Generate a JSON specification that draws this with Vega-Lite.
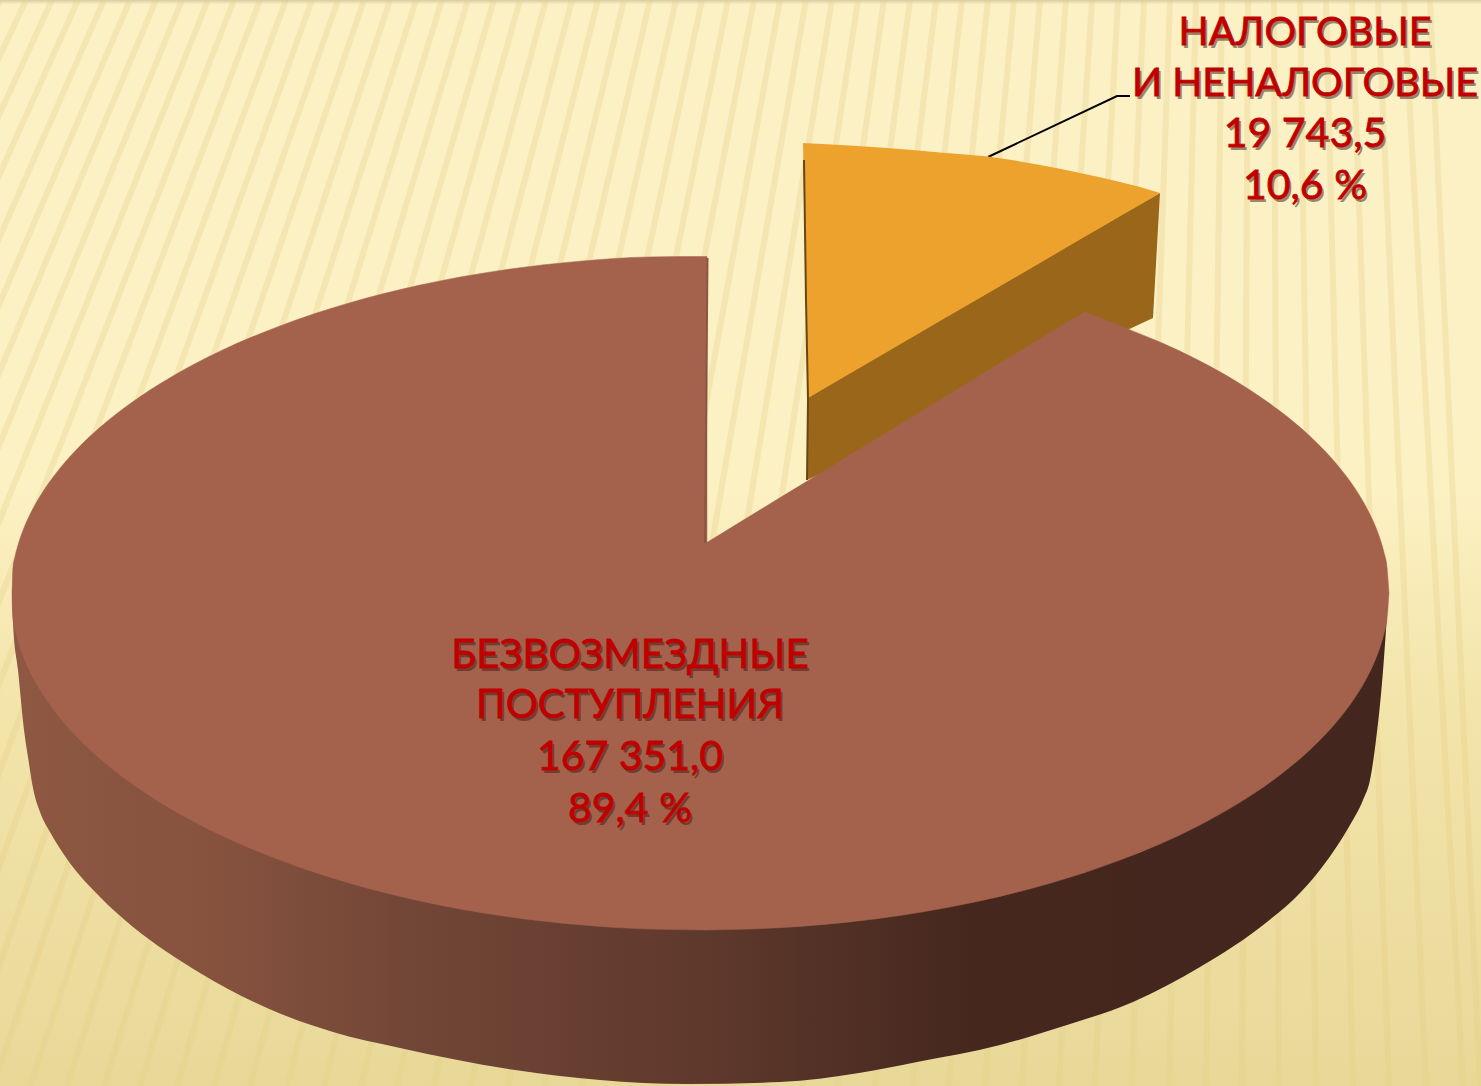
{"$schema":"https://vega.github.io/schema/vega-lite/v6.json","width":1481,"height":1086,"padding":0,"autosize":{"type":"fit","contains":"padding"},"background":"#FCF1C5","view":{"stroke":null,"fill":{"gradient":"linear","x1":0,"y1":0,"x2":0,"y2":1,"stops":[{"offset":0,"color":"#D9CCA3"},{"offset":0.004,"color":"#FCF1C5"},{"offset":0.45,"color":"#FCF1C3"},{"offset":0.65,"color":"#F3E4AA"},{"offset":1,"color":"#E8D898"}]}},"datasets":{"stripes":[{"a":0,"b":-521},{"a":26,"b":-484},{"a":52,"b":-448},{"a":78,"b":-411},{"a":104,"b":-374},{"a":130,"b":-337},{"a":156,"b":-301},{"a":182,"b":-264},{"a":208,"b":-227},{"a":234,"b":-190},{"a":260,"b":-154},{"a":286,"b":-117},{"a":312,"b":-80},{"a":338,"b":-43},{"a":364,"b":-7},{"a":390,"b":30},{"a":416,"b":67},{"a":442,"b":104},{"a":468,"b":140},{"a":494,"b":177},{"a":520,"b":214},{"a":546,"b":250},{"a":572,"b":287},{"a":598,"b":324},{"a":624,"b":361},{"a":650,"b":397},{"a":676,"b":434},{"a":702,"b":471},{"a":728,"b":508},{"a":754,"b":544},{"a":780,"b":581},{"a":806,"b":618},{"a":832,"b":655},{"a":858,"b":691},{"a":884,"b":728},{"a":910,"b":765},{"a":936,"b":802},{"a":962,"b":838},{"a":988,"b":875},{"a":1014,"b":912},{"a":1040,"b":949},{"a":1066,"b":985},{"a":1092,"b":1022},{"a":1118,"b":1059},{"a":1144,"b":1095},{"a":1170,"b":1132},{"a":1196,"b":1169},{"a":1222,"b":1206},{"a":1248,"b":1242},{"a":1274,"b":1279},{"a":1300,"b":1316},{"a":1326,"b":1353},{"a":1352,"b":1389},{"a":1378,"b":1426},{"a":1404,"b":1463},{"a":1430,"b":1480}],"side":[{"x":12,"t":593,"b":600},{"x":13,"t":593,"b":623},{"x":18,"t":593,"b":670},{"x":24,"t":593,"b":730},{"x":28,"t":593,"b":757},{"x":33,"t":593,"b":788},{"x":40,"t":593,"b":812},{"x":50,"t":593,"b":832},{"x":67,"t":593,"b":859},{"x":100,"t":593,"b":897},{"x":133,"t":593,"b":927},{"x":167,"t":593,"b":952},{"x":200,"t":593,"b":973},{"x":267,"t":593,"b":1008},{"x":333,"t":593,"b":1032},{"x":400,"t":593,"b":1048},{"x":515,"t":593,"b":1070},{"x":600,"t":593,"b":1080},{"x":687,"t":593,"b":1084},{"x":780,"t":593,"b":1082},{"x":859,"t":593,"b":1073},{"x":917,"t":593,"b":1062},{"x":1000,"t":593,"b":1045},{"x":1067,"t":593,"b":1025},{"x":1133,"t":593,"b":1002},{"x":1200,"t":593,"b":967},{"x":1267,"t":593,"b":922},{"x":1300,"t":593,"b":893},{"x":1333,"t":593,"b":852},{"x":1350,"t":593,"b":825},{"x":1363,"t":593,"b":800},{"x":1370,"t":593,"b":780},{"x":1376,"t":593,"b":740},{"x":1382,"t":593,"b":683},{"x":1388,"t":593,"b":600}],"top":[{"seg":"a","x":12,"t":593,"b":593},{"seg":"a","x":13,"t":567.3,"b":618.7},{"seg":"a","x":15,"t":556.7,"b":629.3},{"seg":"a","x":18,"t":545.1,"b":640.9},{"seg":"a","x":22,"t":533,"b":653},{"seg":"a","x":28,"t":518.6,"b":667.4},{"seg":"a","x":36,"t":503.1,"b":682.9},{"seg":"a","x":46,"t":487,"b":699},{"seg":"a","x":60,"t":468.2,"b":717.8},{"seg":"a","x":80,"t":446,"b":740},{"seg":"a","x":100,"t":427.3,"b":758.7},{"seg":"a","x":130,"t":403.7,"b":782.3},{"seg":"a","x":170,"t":377.7,"b":808.3},{"seg":"a","x":220,"t":351.2,"b":834.8},{"seg":"a","x":280,"t":325.9,"b":860.1},{"seg":"a","x":350,"t":302.7,"b":883.3},{"seg":"a","x":420,"t":285.1,"b":900.9},{"seg":"a","x":500,"t":270.5,"b":915.5},{"seg":"a","x":580,"t":261.2,"b":924.8},{"seg":"a","x":650,"t":256.9,"b":929.1},{"seg":"a","x":707,"t":256.5,"b":930},{"seg":"b","x":706,"t":543,"b":930},{"seg":"b","x":750,"t":516,"b":929.1},{"seg":"b","x":800,"t":485.6,"b":926.4},{"seg":"b","x":850,"t":455,"b":921.9},{"seg":"b","x":900,"t":424.4,"b":915.5},{"seg":"b","x":950,"t":394,"b":907},{"seg":"b","x":1000,"t":363.3,"b":896.4},{"seg":"b","x":1050,"t":332.8,"b":883.3},{"seg":"b","x":1085,"t":312,"b":872.5},{"seg":"c","x":1085,"t":312,"b":872.5},{"seg":"c","x":1120,"t":325.9,"b":860.1},{"seg":"c","x":1160,"t":342.1,"b":843.9},{"seg":"c","x":1200,"t":361.1,"b":824.9},{"seg":"c","x":1240,"t":383.7,"b":802.3},{"seg":"c","x":1280,"t":411.1,"b":774.9},{"seg":"c","x":1310,"t":436.3,"b":749.7},{"seg":"c","x":1340,"t":468.2,"b":717.8},{"seg":"c","x":1355,"t":488.4,"b":697.6},{"seg":"c","x":1366,"t":506.7,"b":679.3},{"seg":"c","x":1374,"t":523.1,"b":662.9},{"seg":"c","x":1380,"t":538.7,"b":647.3},{"seg":"c","x":1384,"t":552.5,"b":633.5},{"seg":"c","x":1387,"t":567.3,"b":618.7},{"seg":"c","x":1389,"t":593,"b":593}],"smallSide":[{"x":807,"t":398,"b":480},{"x":900,"t":343.7,"b":436.5},{"x":1000,"t":285.4,"b":389.7},{"x":1100,"t":227,"b":342.8},{"x":1153,"t":197,"b":318},{"x":1160,"t":193,"b":193}],"smallTop":[{"x":803,"t":143,"b":143},{"x":808,"t":143.2,"b":398},{"x":850,"t":145.5,"b":373.5},{"x":880,"t":147.5,"b":356},{"x":910,"t":149.7,"b":338.6},{"x":940,"t":152.5,"b":321.1},{"x":965,"t":154.5,"b":306.6},{"x":988,"t":156.5,"b":293.2},{"x":1015,"t":160.5,"b":277.5},{"x":1040,"t":165,"b":262.9},{"x":1060,"t":168.8,"b":251.3},{"x":1080,"t":173,"b":239.6},{"x":1100,"t":177.3,"b":228},{"x":1120,"t":182,"b":216.3},{"x":1140,"t":187,"b":204.7},{"x":1160,"t":193,"b":193}],"smallEdge":[{"x":804,"y":160},{"x":806,"y":300},{"x":808,"y":400},{"x":807,"y":480}],"notchEdge":[{"x":707.5,"y":258},{"x":705,"y":543}],"leader":[{"x":988,"y":157},{"x":1117,"y":96},{"x":1130,"y":96}],"labels":[{"text":"НАЛОГОВЫЕ","x":1305,"y":45,"kind":"caption top"},{"text":"И НЕНАЛОГОВЫЕ","x":1305,"y":96,"kind":"caption top"},{"text":"19 743,5","x":1305,"y":147,"kind":"figure"},{"text":"10,6 %","x":1305,"y":199,"kind":"figure"},{"text":"БЕЗВОЗМЕЗДНЫЕ","x":630,"y":668,"kind":"caption"},{"text":"ПОСТУПЛЕНИЯ","x":630,"y":718,"kind":"caption"},{"text":"167 351,0","x":630,"y":770,"kind":"figure"},{"text":"89,4 %","x":630,"y":822,"kind":"figure"}]},"layer":[{"data":{"name":"stripes"},"mark":{"type":"rule","stroke":"#E3CE85","strokeWidth":6,"opacity":0.3,"clip":true},"encoding":{"x":{"field":"a","type":"quantitative","scale":{"domain":[0,1481],"nice":false,"zero":false},"axis":null},"x2":{"field":"b"},"y":{"datum":0,"type":"quantitative","scale":{"domain":[1086,0],"nice":false,"zero":false},"axis":null},"y2":{"datum":1086}}},{"data":{"name":"leader"},"mark":{"type":"line","stroke":"#000000","strokeWidth":2},"encoding":{"x":{"field":"x","type":"quantitative","scale":{"domain":[0,1481],"nice":false,"zero":false},"axis":null},"y":{"field":"y","type":"quantitative","scale":{"domain":[1086,0],"nice":false,"zero":false},"axis":null}}},{"data":{"name":"smallSide"},"mark":{"type":"area","fill":"#9A671A"},"encoding":{"x":{"field":"x","type":"quantitative","scale":{"domain":[0,1481],"nice":false,"zero":false},"axis":null},"y":{"field":"t","type":"quantitative","scale":{"domain":[1086,0],"nice":false,"zero":false},"axis":null},"y2":{"field":"b"}}},{"data":{"name":"smallTop"},"mark":{"type":"area","fill":"#EDA22E"},"encoding":{"x":{"field":"x","type":"quantitative","scale":{"domain":[0,1481],"nice":false,"zero":false},"axis":null},"y":{"field":"t","type":"quantitative","scale":{"domain":[1086,0],"nice":false,"zero":false},"axis":null},"y2":{"field":"b"}}},{"data":{"name":"smallEdge"},"mark":{"type":"line","stroke":"#6A4512","strokeWidth":2},"encoding":{"x":{"field":"x","type":"quantitative","scale":{"domain":[0,1481],"nice":false,"zero":false},"axis":null},"y":{"field":"y","type":"quantitative","scale":{"domain":[1086,0],"nice":false,"zero":false},"axis":null},"order":{"field":"y"}}},{"data":{"name":"side"},"mark":{"type":"area","interpolate":"monotone","fill":{"gradient":"linear","x1":0,"y1":0,"x2":1,"y2":0,"stops":[{"offset":0,"color":"#8E5842"},{"offset":0.15,"color":"#86523E"},{"offset":0.28,"color":"#734737"},{"offset":0.5,"color":"#5F392C"},{"offset":0.7,"color":"#45271E"},{"offset":1,"color":"#43261E"}]}},"encoding":{"x":{"field":"x","type":"quantitative","scale":{"domain":[0,1481],"nice":false,"zero":false},"axis":null},"y":{"field":"t","type":"quantitative","scale":{"domain":[1086,0],"nice":false,"zero":false},"axis":null},"y2":{"field":"b"}}},{"data":{"name":"top"},"mark":{"type":"area","interpolate":"monotone","fill":"#A4624D","stroke":"#A4624D","strokeWidth":0.5},"encoding":{"x":{"field":"x","type":"quantitative","scale":{"domain":[0,1481],"nice":false,"zero":false},"axis":null},"y":{"field":"t","type":"quantitative","scale":{"domain":[1086,0],"nice":false,"zero":false},"axis":null},"y2":{"field":"b"},"detail":{"field":"seg"}}},{"data":{"name":"notchEdge"},"mark":{"type":"line","stroke":"#8B5742","strokeWidth":2},"encoding":{"x":{"field":"x","type":"quantitative","scale":{"domain":[0,1481],"nice":false,"zero":false},"axis":null},"y":{"field":"y","type":"quantitative","scale":{"domain":[1086,0],"nice":false,"zero":false},"axis":null},"order":{"field":"y"}}},{"data":{"name":"labels"},"mark":{"type":"text","font":"Lato","align":"center","baseline":"alphabetic","fill":"#3A1D15","opacity":0.5,"dx":2,"dy":3},"encoding":{"x":{"field":"x","type":"quantitative","scale":{"domain":[0,1481],"nice":false,"zero":false},"axis":null},"y":{"field":"y","type":"quantitative","scale":{"domain":[1086,0],"nice":false,"zero":false},"axis":null},"text":{"field":"text"},"size":{"field":"kind","type":"nominal","scale":{"domain":["caption top","caption","figure"],"range":[39.5,41,44.5]},"legend":null}}},{"data":{"name":"labels"},"mark":{"type":"text","font":"Lato","align":"center","baseline":"alphabetic","fill":"#C00000","stroke":"#C00000","strokeWidth":0.8},"encoding":{"x":{"field":"x","type":"quantitative","scale":{"domain":[0,1481],"nice":false,"zero":false},"axis":null},"y":{"field":"y","type":"quantitative","scale":{"domain":[1086,0],"nice":false,"zero":false},"axis":null},"text":{"field":"text"},"size":{"field":"kind","type":"nominal","scale":{"domain":["caption top","caption","figure"],"range":[39.5,41,44.5]},"legend":null}}}],"resolve":{"scale":{"x":"shared","y":"shared"}},"config":{"view":{"stroke":null}}}
